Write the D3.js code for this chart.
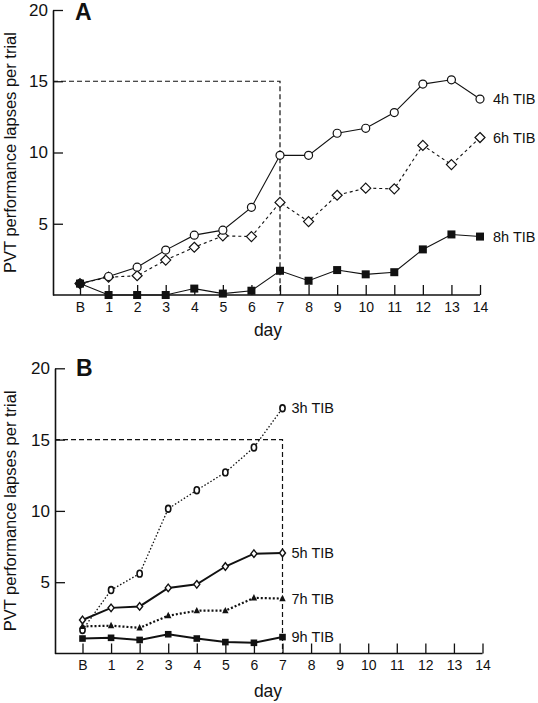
<!DOCTYPE html>
<html><head><meta charset="utf-8">
<script src="https://cdn.jsdelivr.net/npm/d3@7"></script>
<style>
html,body{margin:0;padding:0;background:#fff;}
svg text{font-family:"Liberation Sans",Arial,sans-serif;fill:#111;}
</style></head>
<body><svg id="c" width="538" height="703"></svg>
<script>
const dayLabels = ["B","1","2","3","4","5","6","7","8","9","10","11","12","13","14"];
const yTicks = [5,10,15,20];
// Panel A
const tib4 = [0.8,1.3,1.95,3.15,4.2,4.55,6.15,9.8,9.8,11.35,11.7,12.8,14.8,15.1,13.75];
const tib6 = [0.8,1.25,1.35,2.45,3.35,4.15,4.1,6.5,5.15,7.0,7.5,7.45,10.5,9.15,11.05];
const tib8 = [0.8,0,0,0,0.45,0.1,0.3,1.7,1.0,1.75,1.45,1.6,3.2,4.25,4.1];
// Panel B
const tib3 = [1.65,4.45,5.6,10.15,11.45,12.7,14.45,17.2];
const tib5 = [2.35,3.2,3.3,4.6,4.85,6.1,7.0,7.05];
const tib7 = [1.9,1.95,1.8,2.65,3.0,3.0,3.9,3.85];
const tib9 = [1.05,1.1,0.95,1.35,1.05,0.8,0.75,1.15];
const threshold = 15, thresholdDay = 7;

const svg = d3.select("#c");

function panel(cfg){
  const g = svg.append("g");
  const x = d3.scaleLinear().domain([0,14]).range([cfg.x0, cfg.x1]);
  const y = d3.scaleLinear().domain([0,20]).range([cfg.yBot, cfg.yTop]);
  const xa = g.append("g").attr("transform",`translate(0,${cfg.yBot})`)
    .call(d3.axisBottom(x).tickValues(d3.range(15)).tickFormat(i=>dayLabels[i]).tickSize(-10).tickPadding(6));
  xa.select(".domain").remove();
  xa.selectAll(".tick line").attr("stroke","#111").attr("stroke-width",1.3);
  xa.selectAll(".tick text").attr("font-size",14).attr("dy","0.75em").attr("y",6);
  g.append("line").attr("x1",cfg.axX).attr("x2",x(14)).attr("y1",cfg.yBot).attr("y2",cfg.yBot)
    .attr("stroke","#111").attr("stroke-width",1.6);
  const ya = g.append("g").attr("transform",`translate(${cfg.axX},0)`)
    .call(d3.axisLeft(y).tickValues(yTicks).tickSize(-10).tickSizeOuter(0).tickPadding(5));
  ya.select(".domain").attr("stroke","#111").attr("stroke-width",1.6);
  ya.selectAll(".tick line").attr("stroke","#111").attr("stroke-width",1.3);
  ya.selectAll(".tick text").attr("font-size",17);
  g.append("path").attr("d",`M${cfg.axX},${y(threshold)}H${x(thresholdDay)}V${cfg.yBot}`)
    .attr("fill","none").attr("stroke","#111").attr("stroke-width",1.2).attr("stroke-dasharray","5,3");
  g.append("text").attr("x",cfg.letterX).attr("y",cfg.letterY).attr("font-size",23).attr("font-weight","bold").text(cfg.letter);
  g.append("text").attr("transform",`translate(16,${(cfg.yTop+cfg.yBot)/2}) rotate(-90)`)
    .attr("text-anchor","middle").attr("font-size",16.5).text("PVT performance lapses per trial");
  g.append("text").attr("x",cfg.dayX).attr("y",cfg.dayY).attr("text-anchor","middle").attr("font-size",17.5).text("day");
  return {g,x,y};
}

function series(P, vals, st){
  const line = d3.line().x((d,i)=>P.x(i)).y(d=>P.y(d));
  P.g.append("path").attr("d",line(vals)).attr("fill","none").attr("stroke","#111")
    .attr("stroke-width",st.lw).attr("stroke-dasharray",st.dash||null);
  const m = P.g.append("g");
  vals.forEach((v,i)=>{
    const cx=P.x(i), cy=P.y(v), s=st.size;
    if(st.shape==="circle"){
      m.append("ellipse").attr("cx",cx).attr("cy",cy).attr("rx",s).attr("ry",st.ry||s)
        .attr("fill","#fff").attr("stroke","#111").attr("stroke-width",st.mw||1.2);
    } else if(st.shape==="diamond"){
      m.append("path").attr("d",`M${cx},${cy-(st.ry||s)}L${cx+s},${cy}L${cx},${cy+(st.ry||s)}L${cx-s},${cy}Z`)
        .attr("fill","#fff").attr("stroke","#111").attr("stroke-width",st.mw||1.2);
    } else if(st.shape==="square"){
      m.append("rect").attr("x",cx-s).attr("y",cy-s).attr("width",2*s).attr("height",2*s).attr("fill","#111");
    } else if(st.shape==="triangle"){
      m.append("path").attr("d",`M${cx},${cy-s*1.2}L${cx+s},${cy+s*0.8}L${cx-s},${cy+s*0.8}Z`).attr("fill","#111");
    }
  });
  const last = vals.length-1;
  P.g.append("text").attr("x",P.x(last)+st.lx).attr("y",P.y(vals[last])).attr("dy","0.36em")
    .attr("font-size",14.5).text(st.label);
}

const A = panel({x0:80,x1:480,axX:53,yBot:295,yTop:10,letter:"A",letterX:75,letterY:20,dayX:268,dayY:336});
series(A, tib6, {shape:"diamond",size:5,lw:1.1,dash:"3,3",label:"6h TIB",lx:13});
series(A, tib4, {shape:"circle",size:4,lw:1.1,label:"4h TIB",lx:13});
series(A, tib8, {shape:"square",size:4,lw:1.1,label:"8h TIB",lx:13});

const B = panel({x0:82.5,x1:482.5,axX:55,yBot:653.5,yTop:368.3,letter:"B",letterX:76,letterY:376,dayX:268,dayY:697});
series(B, tib3, {shape:"circle",size:2.6,ry:3.4,mw:1.6,lw:1.3,dash:"1.5,2",label:"3h TIB",lx:9});
series(B, tib7, {shape:"triangle",size:3.2,lw:2.2,dash:"2,2",label:"7h TIB",lx:9});
series(B, tib5, {shape:"diamond",size:3,ry:3.8,mw:1.4,lw:2,label:"5h TIB",lx:9});
series(B, tib9, {shape:"square",size:3.3,lw:2,label:"9h TIB",lx:9});
</script></body></html>
